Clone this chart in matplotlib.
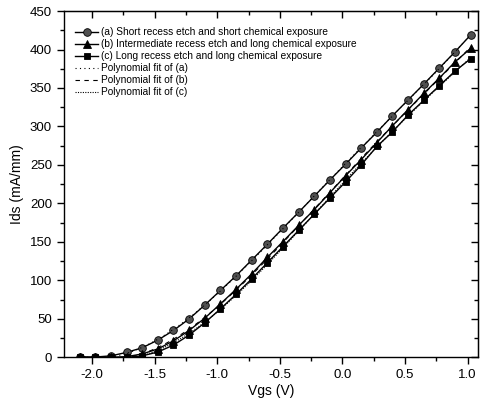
import numpy as np
import matplotlib
matplotlib.use("Agg")
import matplotlib.pyplot as plt
from matplotlib.ticker import MultipleLocator, FormatStrFormatter

plt.rcParams['font.family'] = ['Liberation Sans', 'DejaVu Sans']

# gate voltage sweep (V)
vgs = [-2.1, -1.975, -1.85, -1.725, -1.6, -1.475, -1.35, -1.225, -1.1, -0.975,
       -0.85, -0.725, -0.6, -0.475, -0.35, -0.225, -0.1, 0.025, 0.15, 0.275,
       0.4, 0.525, 0.65, 0.775, 0.9, 1.025]

# drain current (mA/mm)
ids_a = [0, 0.5, 2, 6.5, 12.5, 22.5, 35, 50, 68, 87, 106, 126.5, 147, 168,
         188.5, 209.5, 230.5, 251, 272, 292.5, 314, 334.5, 355, 376, 397, 419]
ids_b = [0.5, 0, 0, 1, 4.5, 11, 21.5, 35, 51, 69.5, 88.5, 108.5, 130, 150.5,
         171.5, 192, 214, 236, 257, 279, 301, 322, 343, 363, 384, 401.5]
ids_c = [0, 0, 0, 0, 2, 7, 16, 29, 45, 63, 82, 102, 123, 144, 165, 186, 207,
         228, 250, 274, 293, 315, 334, 353, 372, 388]

labels = ["(a) Short recess etch and short chemical exposure",
          "(b) Intermediate recess etch and long chemical exposure",
          "(c) Long recess etch and long chemical exposure"]
fit_labels = ["Polynomial fit of (a)", "Polynomial fit of (b)", "Polynomial fit of (c)"]

fig = plt.figure(figsize=(4.8, 4.08), dpi=100)
ax = fig.add_axes([0.133, 0.124, 0.863, 0.849])

x = np.array(vgs)
series = [ids_a, ids_b, ids_c]
markers = ['o', '^', 's']
msizes = [5.5, 6, 5]
data_handles = []
for y, m, ms, lab in zip(series, markers, msizes, labels):
    h, = ax.plot(x, y, color='black', lw=1.0, marker=m, ms=ms,
                 mfc='#505050' if m == 'o' else 'black', mec='black', mew=0.6,
                 label=lab)
    data_handles.append(h)

# polynomial fits of the measured curves
xf = np.linspace(x[0], x[-1], 300)
fit_styles = [(0, (1, 3)), (0, (4, 4)), (0, (1, 1.2))]
fit_handles = []
for y, ls, lab in zip(series, fit_styles, fit_labels):
    coef = np.polyfit(x, y, 5)
    h, = ax.plot(xf, np.polyval(coef, xf), color='black', lw=0.8, ls=ls, label=lab)
    fit_handles.append(h)

ax.set_xlim(-2.226, 1.084)
ax.set_ylim(0, 450)
ax.xaxis.set_major_locator(MultipleLocator(0.5))
ax.xaxis.set_minor_locator(MultipleLocator(0.25))
ax.yaxis.set_major_locator(MultipleLocator(50))
ax.yaxis.set_minor_locator(MultipleLocator(25))
ax.xaxis.set_major_formatter(FormatStrFormatter('%.1f'))
ax.tick_params(which='major', direction='out', length=5, width=1.0, labelsize=9.5)
ax.tick_params(which='minor', direction='out', length=3, width=1.0)

# mirrored ticks on top and right, pointing inward
top = ax.secondary_xaxis('top')
top.xaxis.set_major_locator(MultipleLocator(0.5))
top.xaxis.set_minor_locator(MultipleLocator(0.25))
top.tick_params(which='major', direction='in', length=5, width=1.0, labeltop=False)
top.tick_params(which='minor', direction='in', length=3, width=1.0)
right = ax.secondary_yaxis('right')
right.yaxis.set_major_locator(MultipleLocator(50))
right.yaxis.set_minor_locator(MultipleLocator(25))
right.tick_params(which='major', direction='in', length=5, width=1.0, labelright=False)
right.tick_params(which='minor', direction='in', length=3, width=1.0)

for sp in ax.spines.values():
    sp.set_linewidth(1.0)

ax.set_xlabel("Vgs (V)", fontsize=10, labelpad=2)
ax.set_ylabel("Ids (mA/mm)", fontsize=10, labelpad=4)

ax.legend(handles=data_handles + fit_handles, loc='upper left', frameon=False,
          fontsize=7.3, handlelength=2.2, handletextpad=0.35, labelspacing=0.2,
          borderaxespad=0.0, bbox_to_anchor=(0.018, 0.965))

fig.savefig("out.png", dpi=100)
